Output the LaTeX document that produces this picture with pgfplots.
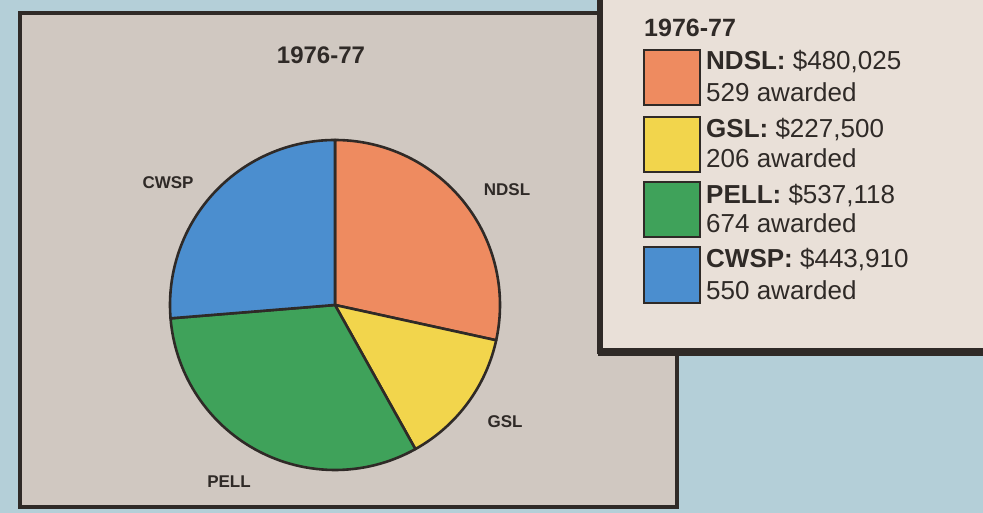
\documentclass[border=0pt]{standalone}
\usepackage{pgfplots}
\pgfplotsset{compat=1.18}
\usepackage{pgfplotstable}
\usepackage{fontspec}
\setmainfont{Liberation Sans}
\definecolor{bgblue}{HTML}{B4CFD8}
\definecolor{panelgray}{HTML}{D0C8C1}
\definecolor{legbg}{HTML}{E9E0D8}
\definecolor{ink}{HTML}{2F2A27}
\definecolor{cNDSL}{HTML}{EE8B60}
\definecolor{cGSL}{HTML}{F2D54C}
\definecolor{cPELL}{HTML}{3FA25A}
\definecolor{cCWSP}{HTML}{4B8ECF}
\pgfplotstableread{
name value awarded
NDSL 480025 529
GSL 227500 206
PELL 537118 674
CWSP 443910 550
}\aidtable
\pgfplotstablegetelem{0}{value}\of\aidtable\edef\vA{\pgfplotsretval}
\pgfplotstablegetelem{1}{value}\of\aidtable\edef\vB{\pgfplotsretval}
\pgfplotstablegetelem{2}{value}\of\aidtable\edef\vC{\pgfplotsretval}
\pgfplotstablegetelem{3}{value}\of\aidtable\edef\vD{\pgfplotsretval}
\edef\tot{\fpeval{\vA+\vB+\vC+\vD}}
\edef\aA{90}
\edef\aB{\fpeval{90-360*\vA/\tot}}
\edef\aC{\fpeval{\aB-360*\vB/\tot}}
\edef\aD{\fpeval{\aC-360*\vC/\tot}}
\edef\aE{\fpeval{\aD-360*\vD/\tot}}
\newcommand{\piewedge}[3]{% color, start, end
  \fill[#1] (axis cs:335,208) -- ++(#2:165pt) arc[start angle=#2, end angle=#3, radius=165pt] -- cycle;
  \draw[ink, line width=2.6pt, line join=round] (axis cs:335,208) -- ++(#2:165pt) arc[start angle=#2, end angle=#3, radius=165pt] -- cycle;
}
\begin{document}
\begin{tikzpicture}
\begin{axis}[x=1pt,y=1pt,xmin=0,xmax=983,ymin=0,ymax=513,
  hide axis, scale only axis, clip=false]
% background
\fill[bgblue] (axis cs:0,0) rectangle (axis cs:983,513);
% gray panel
\fill[panelgray] (axis cs:20,6) rectangle (axis cs:677,500);
\draw[ink, line width=4pt] (axis cs:20,6) rectangle (axis cs:677,500);
% title
\node[font=\bfseries\fontsize{24}{27}\selectfont, text=ink, anchor=base] at (axis cs:321,449) {1976-77};
% pie
\piewedge{cNDSL}{\aA}{\aB}
\piewedge{cGSL}{\aB}{\aC}
\piewedge{cPELL}{\aC}{\aD}
\piewedge{cCWSP}{\aD}{\aE}
% pie labels
\begin{scope}[every node/.style={font=\bfseries\fontsize{17}{19}\selectfont, text=ink}]
\node at (axis cs:507,323) {NDSL};
\node at (axis cs:505,91) {GSL};
\node at (axis cs:229,31) {PELL};
\node at (axis cs:168,330) {CWSP};
\end{scope}
% legend box
\fill[legbg] (axis cs:600,159) rectangle (axis cs:990,520);
\draw[ink, line width=6pt] (axis cs:600,520) -- (axis cs:600,162) -- (axis cs:990,162);
\draw[ink, line width=2pt] (axis cs:598,158) -- (axis cs:990,158);
% legend content
\node[font=\bfseries\fontsize{25}{28}\selectfont, text=ink, anchor=base west, inner sep=0pt] at (axis cs:644,476) {1976-77};
\filldraw[fill=cNDSL, draw=ink, line width=1.8pt] (axis cs:644,408) rectangle (axis cs:700,463);
\filldraw[fill=cGSL, draw=ink, line width=1.8pt] (axis cs:644,341) rectangle (axis cs:700,396);
\filldraw[fill=cPELL, draw=ink, line width=1.8pt] (axis cs:644,276) rectangle (axis cs:700,331);
\filldraw[fill=cCWSP, draw=ink, line width=1.8pt] (axis cs:644,210) rectangle (axis cs:700,266);
\begin{scope}[every node/.style={font=\fontsize{26}{29}\selectfont, text=ink, anchor=base west, inner sep=0pt}]
\node at (axis cs:706,443) {\textbf{NDSL:} \$480,025};
\node at (axis cs:706,411) {529 awarded};
\node at (axis cs:706,375) {\textbf{GSL:} \$227,500};
\node at (axis cs:706,345) {206 awarded};
\node at (axis cs:706,309) {\textbf{PELL:} \$537,118};
\node at (axis cs:706,280) {674 awarded};
\node at (axis cs:706,245) {\textbf{CWSP:} \$443,910};
\node at (axis cs:706,213) {550 awarded};
\end{scope}
\end{axis}
\pgfresetboundingbox
\path[use as bounding box] (0,0) rectangle (983pt,513pt);
\end{tikzpicture}
\end{document}
